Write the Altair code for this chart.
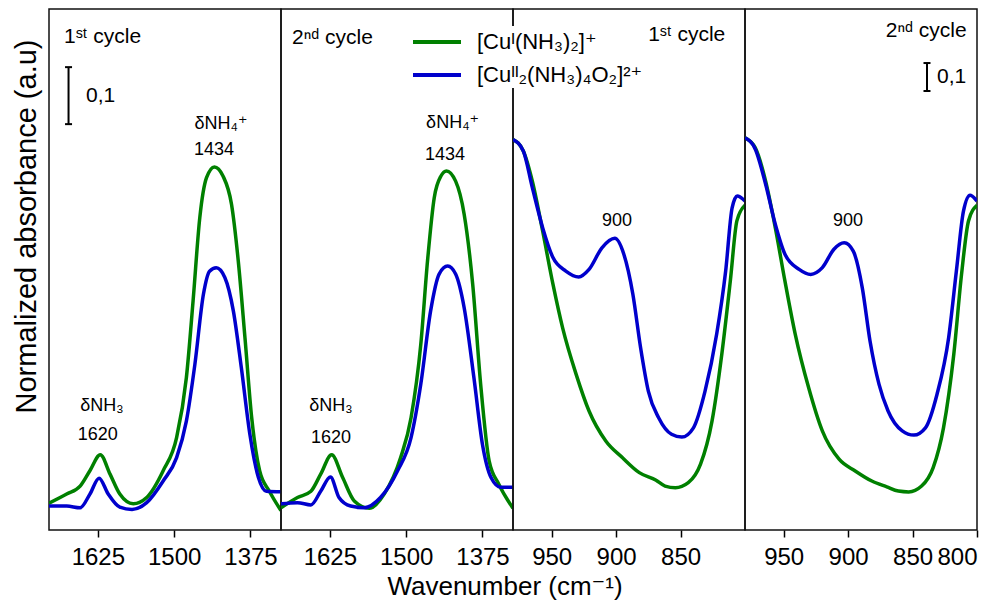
import altair as alt
import pandas as pd

FONT = "Liberation Sans, Arial, DejaVu Sans, sans-serif"
GREEN = "#008000"
BLUE = "#0000cc"
S1 = "[Cuᴵ(NH₃)₂]⁺"
S2 = "[Cuᴵᴵ₂(NH₃)₄O₂]²⁺"
SERIES = [S1, S2]

# ---------------- spectra (wavenumber, normalized absorbance) ----------------
# Panel 1: 1st cycle, 1700-1325 cm-1
p1_green_wn = [1705, 1676, 1654, 1638, 1621, 1605, 1589, 1567, 1545, 1518, 1496, 1480, 1469, 1458, 1447, 1434, 1420, 1406, 1395, 1384, 1373, 1360, 1344, 1325]
p1_green_ab = [0.047, 0.063, 0.077, 0.104, 0.132, 0.098, 0.063, 0.046, 0.057, 0.104, 0.162, 0.267, 0.402, 0.548, 0.618, 0.637, 0.621, 0.571, 0.472, 0.337, 0.197, 0.104, 0.068, 0.034]
p1_blue_wn = [1705, 1676, 1654, 1638, 1623, 1608, 1589, 1569, 1545, 1518, 1496, 1480, 1466, 1452, 1442, 1431, 1417, 1403, 1390, 1376, 1362, 1349, 1325]
p1_blue_ab = [0.042, 0.042, 0.039, 0.063, 0.091, 0.063, 0.040, 0.036, 0.048, 0.086, 0.127, 0.191, 0.291, 0.414, 0.454, 0.460, 0.443, 0.384, 0.285, 0.168, 0.092, 0.068, 0.067]

# Panel 2: 2nd cycle, 1700-1325 cm-1
p2_green_wn = [1705, 1678, 1656, 1640, 1622, 1604, 1585, 1560, 1536, 1509, 1492, 1476, 1465, 1454, 1443, 1434, 1419, 1405, 1391, 1378, 1364, 1348, 1325]
p2_green_ab = [0.039, 0.057, 0.068, 0.098, 0.132, 0.092, 0.051, 0.038, 0.063, 0.127, 0.197, 0.326, 0.472, 0.583, 0.621, 0.630, 0.612, 0.554, 0.431, 0.256, 0.121, 0.080, 0.038]
p2_blue_wn = [1705, 1678, 1656, 1640, 1624, 1610, 1591, 1569, 1542, 1514, 1492, 1476, 1460, 1446, 1432, 1419, 1405, 1389, 1375, 1361, 1345, 1325]
p2_blue_ab = [0.046, 0.048, 0.044, 0.068, 0.093, 0.057, 0.042, 0.039, 0.057, 0.104, 0.162, 0.256, 0.384, 0.449, 0.463, 0.449, 0.390, 0.267, 0.150, 0.092, 0.075, 0.075]

# Panel 3: 1st cycle, 980-800 cm-1
p3_green_wn = [980, 972, 965, 957, 949, 941.5, 931, 921, 908, 895, 882, 869, 862, 854, 844, 834.5, 825.6, 818, 811.4, 806.3, 800]
p3_green_ab = [1.395, 1.354, 1.246, 1.068, 0.878, 0.722, 0.556, 0.425, 0.318, 0.258, 0.205, 0.178, 0.157, 0.151, 0.169, 0.235, 0.389, 0.628, 0.889, 1.104, 1.160]
p3_blue_wn = [980, 972, 965, 957, 949, 939, 929, 921, 911, 901, 894, 887, 881, 875, 867, 857, 849, 840, 831, 822, 815, 810, 806, 800]
p3_blue_ab = [1.395, 1.354, 1.223, 1.080, 0.973, 0.925, 0.904, 0.931, 1.008, 1.042, 0.985, 0.842, 0.651, 0.496, 0.401, 0.342, 0.332, 0.365, 0.496, 0.699, 0.925, 1.151, 1.193, 1.175]

# Panel 4: 2nd cycle, 980-800 cm-1
p4_green_wn = [980, 972, 964, 956.5, 949, 941, 930.6, 920, 907, 894.5, 881.6, 870, 861, 853, 843, 834, 826, 818, 812, 806.6, 800]
p4_green_ab = [1.401, 1.365, 1.246, 1.080, 0.889, 0.699, 0.508, 0.354, 0.253, 0.211, 0.175, 0.154, 0.139, 0.136, 0.157, 0.223, 0.365, 0.628, 0.913, 1.104, 1.160]
p4_blue_wn = [980, 972, 964, 956.5, 949, 938, 929, 920, 911, 903, 896, 889, 883, 876, 869, 858, 849, 840, 831, 822, 816, 810.5, 805.4, 800]
p4_blue_ab = [1.401, 1.360, 1.235, 1.092, 0.985, 0.931, 0.913, 0.937, 1.003, 1.026, 0.996, 0.865, 0.675, 0.520, 0.425, 0.354, 0.339, 0.365, 0.485, 0.687, 0.925, 1.139, 1.196, 1.175]

# ---------------- axes ----------------
wn_domain_high = [1325, 1705]
wn_domain_low = [800, 980]
ab_domain_high = [0, 0.914]
ab_domain_low = [0, 1.861]
ticks_high = [1625, 1500, 1375]
ticks_p3 = [950, 900, 850]
ticks_p4 = [950, 900, 850, 800]

# ---------------- annotations ----------------
cycle_text = ["1ˢᵗ cycle", "2ⁿᵈ cycle", "1ˢᵗ cycle", "2ⁿᵈ cycle"]
cycle_wn = [1680.4, 1687.0, 815.3, 808.0]
cycle_ab = [0.855, 0.853, 1.746, 1.761]
cycle_align = ["left", "left", "right", "right"]

p1_peak_text = ["δNH₄⁺", "1434", "δNH₃", "1620"]
p1_peak_wn = [1423.3, 1434.7, 1618.2, 1625.2]
p1_peak_ab = [0.703, 0.658, 0.209, 0.158]
p2_peak_text = ["δNH₄⁺", "1434", "δNH₃", "1620"]
p2_peak_wn = [1424.0, 1436.4, 1623.1, 1623.0]
p2_peak_ab = [0.705, 0.649, 0.209, 0.153]
p3_peak_text = ["900"]
p3_peak_wn = [899.3]
p3_peak_ab = [1.086]
p4_peak_text = ["900"]
p4_peak_wn = [900.1]
p4_peak_ab = [1.086]

# scale bars (0.1 absorbance)
p1_bar_wn, p1_bar_lo, p1_bar_label_wn = 1673.0, 0.712, 1644.4
p4_bar_wn, p4_bar_lo, p4_bar_label_wn = 838.8, 1.568, 831.0
bar_height = 0.1


def spectrum(wn, ab, name):
    return pd.DataFrame({"wn": wn, "ab": ab, "series": name})


legend = alt.Legend(
    title=None, orient="none", legendX=362, legendY=17,
    symbolType="M-2,0H2", symbolSize=576, symbolStrokeWidth=4, symbolOffset=10,
    labelFontSize=22, labelFont=FONT, labelColor="black", labelLimit=400,
    labelOffset=26, fillColor="white", padding=2, rowPadding=8,
)
color = alt.Color("series:N", scale=alt.Scale(domain=SERIES, range=[GREEN, BLUE]), legend=legend)


def make_panel(idx, green, blue, xdom, ydom, ticks, peaks, bar=None, ytitle=False, flush=False):
    xaxis = alt.Axis(values=ticks, tickSize=7, tickColor="black", tickWidth=1.5,
                     labelFontSize=24, labelFont=FONT, labelColor="black", labelPadding=8,
                     domain=False, grid=False, labelFlush=flush, labelOverlap=False,
                     labelBound=False, format="d", title=None)
    if ytitle:
        yaxis = alt.Axis(title="Normalized absorbance (a.u)", labels=False, ticks=False,
                         domain=False, grid=False, titleFontSize=29, titleFont=FONT,
                         titleFontWeight="normal", titleColor="black", titlePadding=8,
                         minExtent=0, titleY=217)
    else:
        yaxis = None
    x = alt.X("wn:Q", scale=alt.Scale(domain=xdom, reverse=True, zero=False, nice=False), axis=xaxis)
    y = alt.Y("ab:Q", scale=alt.Scale(domain=ydom, zero=False, nice=False), axis=yaxis)

    layers = []
    for df in (green, blue):
        layers.append(
            alt.Chart(df).mark_line(strokeWidth=3.5, interpolate="monotone", clip=True)
            .encode(x=x, y=y, color=color)
        )
    ann = pd.DataFrame({"wn": [cycle_wn[idx]], "ab": [cycle_ab[idx]], "label": [cycle_text[idx]]})
    layers.append(
        alt.Chart(ann).mark_text(align=cycle_align[idx], baseline="alphabetic", fontSize=21,
                                 font=FONT, color="black")
        .encode(x=x, y=y, text="label:N")
    )
    pk = pd.DataFrame({"wn": peaks[0], "ab": peaks[1], "label": peaks[2]})
    layers.append(
        alt.Chart(pk).mark_text(align="center", baseline="alphabetic", fontSize=18,
                                font=FONT, color="black")
        .encode(x=x, y=y, text="label:N")
    )
    if bar is not None:
        bwn, blo, blab = bar
        xs = (xdom[1] - xdom[0]) / 232.0 * 3.5
        bar_df = pd.DataFrame({"wn": [bwn], "ab": [blo], "ab2": [blo + bar_height]})
        layers.append(
            alt.Chart(bar_df).mark_rule(color="black", strokeWidth=2)
            .encode(x=x, y=y, y2="ab2:Q")
        )
        caps = pd.DataFrame({"wn": [bwn + xs, bwn + xs], "wn2": [bwn - xs, bwn - xs],
                             "ab": [blo, blo + bar_height]})
        layers.append(
            alt.Chart(caps).mark_rule(color="black", strokeWidth=2)
            .encode(x=x, x2="wn2:Q", y=y)
        )
        lab = pd.DataFrame({"wn": [blab], "ab": [blo + bar_height / 2], "label": ["0,1"]})
        layers.append(
            alt.Chart(lab).mark_text(align="left", baseline="middle", fontSize=21,
                                     font=FONT, color="black")
            .encode(x=x, y=y, text="label:N")
        )
    return alt.layer(*layers).properties(width=232, height=521)


p1 = make_panel(0, spectrum(p1_green_wn, p1_green_ab, S1), spectrum(p1_blue_wn, p1_blue_ab, S2),
                wn_domain_high, ab_domain_high, ticks_high,
                (p1_peak_wn, p1_peak_ab, p1_peak_text),
                bar=(p1_bar_wn, p1_bar_lo, p1_bar_label_wn), ytitle=True)
p2 = make_panel(1, spectrum(p2_green_wn, p2_green_ab, S1), spectrum(p2_blue_wn, p2_blue_ab, S2),
                wn_domain_high, ab_domain_high, ticks_high,
                (p2_peak_wn, p2_peak_ab, p2_peak_text))
p3 = make_panel(2, spectrum(p3_green_wn, p3_green_ab, S1), spectrum(p3_blue_wn, p3_blue_ab, S2),
                wn_domain_low, ab_domain_low, ticks_p3,
                (p3_peak_wn, p3_peak_ab, p3_peak_text))
p4 = make_panel(3, spectrum(p4_green_wn, p4_green_ab, S1), spectrum(p4_blue_wn, p4_blue_ab, S2),
                wn_domain_low, ab_domain_low, ticks_p4,
                (p4_peak_wn, p4_peak_ab, p4_peak_text),
                bar=(p4_bar_wn, p4_bar_lo, p4_bar_label_wn), flush=True)

chart = (
    alt.hconcat(
        p1, p2, p3, p4, spacing=0, bounds="flush",
        title=alt.TitleParams(text="Wavenumber (cm⁻¹)", orient="bottom", anchor="middle",
                              frame="group", fontSize=26, font=FONT, fontWeight="normal",
                              color="black", offset=4, dx=456),
    )
    .resolve_scale(x="independent", y="independent", color="shared")
    .configure_view(stroke="#111111", strokeWidth=1.5)
    .properties(padding={"left": 3, "top": 0, "right": 0, "bottom": 0}, background="white")
)

chart.save("out.html", embed_options={"renderer": "svg", "actions": False})
